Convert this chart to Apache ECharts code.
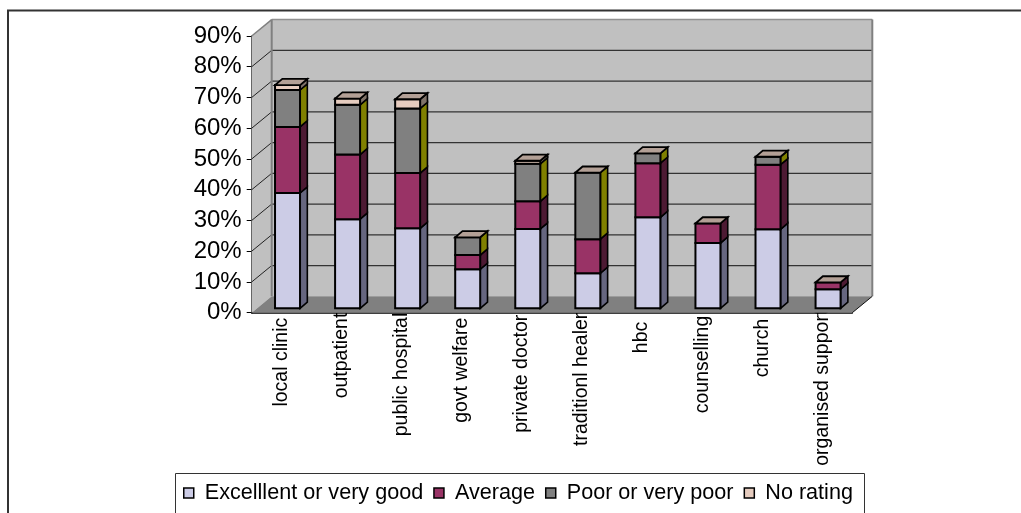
<!DOCTYPE html>
<html>
<head>
<meta charset="utf-8">
<style>html,body{margin:0;padding:0;background:#fff;overflow:hidden}#chart{width:1021px;height:513px}</style>
<script src="https://cdn.jsdelivr.net/npm/echarts@6/dist/echarts.min.js"></script>
</head>
<body>
<div id="chart"></div>
<script>
// Ratings of care providers, stacked percentages per provider
const categories = ['local clinic','outpatient','public hospital','govt welfare','private doctor','traditionl healer','hbc','counselling','church','organised support'];
const excellent = [37.5,29,26,12.7,25.8,11.4,29.6,21.2,25.7,6.2];
const average   = [21.5,21,18,4.6,9,11.1,17.6,6.4,21,2.2];
const poor      = [12,16.2,21,5.8,12.2,21.6,3.2,0,2.6,0];
const noRating  = [1.6,2,3,0,1,0,0,0,0,0];
const percentTicks = [0,10,20,30,40,50,60,70,80,90];

const seriesNames = ['Excelllent or very good','Average','Poor or very poor','No rating'];
const seriesValues = [excellent, average, poor, noRating];
const frontColors = ['#ccccE6','#993366','#808080','#E6CCBF'];
const sideColors  = ['#66667F','#4D1A33','#808000','#807369'];
const topColor = '#B3A096';

// Oblique projection: room depth, column offset inside the room, column depth
const room = {dx: 20, dy: -16.4};
const inset = {dx: 5.8, dy: -4.4};
const depth = {dx: 7.3, dy: -6.2};
const barRatio = 25 / 60.06;

// Extra distance of each category label from the axis
const labelDrop = [8,3,3,8,5,3,12,6,9,0];

function poly(points, fill, stroke, lineWidth) {
  return {type: 'polygon', shape: {points}, style: {fill, stroke: stroke || null, lineWidth: lineWidth || 0, lineJoin: 'miter'}};
}
function seg(x1, y1, x2, y2, stroke, lineWidth) {
  return {type: 'line', shape: {x1, y1, x2, y2}, style: {stroke, lineWidth}};
}

function renderRoom(params, api) {
  const c = params.coordSys;
  const l = c.x, r = c.x + c.width, t = c.y, b = c.y + c.height;
  const dx = room.dx, dy = room.dy;
  const parts = [
    poly([[l + dx, t + dy], [r + dx, t + dy], [r + dx, b + dy], [l + dx, b + dy]], '#C0C0C0'),
    poly([[l, t], [l + dx, t + dy], [l + dx, b + dy], [l, b]], '#C0C0C0'),
    poly([[l, b], [l + dx, b + dy], [r + dx, b + dy], [r, b]], '#808080')
  ];
  percentTicks.slice(1, -1).forEach(v => {
    const y = api.coord([0, v])[1];
    parts.push(seg(l, y, l + dx, y + dy, '#222', 1));
    parts.push(seg(l + dx, y + dy, r + dx, y + dy, '#333', 1.2));
  });
  parts.push(seg(l, t, l + dx, t + dy, '#808080', 1.5));
  parts.push(seg(l + dx, t + dy, r + dx, t + dy, '#909090', 1.5));
  parts.push(seg(l + dx, t + dy, l + dx, b + dy, '#808080', 2));
  parts.push(seg(r + dx, t + dy, r + dx, b + dy, '#808080', 2));
  parts.push(seg(r, b, r + dx, b + dy, '#111', 1));
  return {type: 'group', children: parts};
}

function renderSegment(s) {
  return function (params, api) {
    const i = api.value(0), lo = api.value(1), hi = api.value(2);
    const w = api.size([1, 0])[0] * barRatio;
    const cx = api.coord([i, 0])[0] + inset.dx;
    const x0 = cx - w / 2, x1 = cx + w / 2;
    const yLo = api.coord([i, lo])[1] + inset.dy;
    const yHi = api.coord([i, hi])[1] + inset.dy;
    const dx = depth.dx, dy = depth.dy;
    const parts = [];
    if (hi > lo) {
      parts.push(poly([[x1, yLo], [x1 + dx, yLo + dy], [x1 + dx, yHi + dy], [x1, yHi]], sideColors[s], '#000', 1.6));
      parts.push(poly([[x0, yLo], [x1, yLo], [x1, yHi], [x0, yHi]], frontColors[s], '#000', 2));
    }
    if (s === seriesValues.length - 1) {
      // The uppermost series caps the column even where its own value is zero
      parts.push(poly([[x0, yHi], [x1, yHi], [x1 + dx, yHi + dy], [x0 + dx, yHi + dy]], topColor, '#000', 1.8));
    }
    return {type: 'group', children: parts};
  };
}

const segmentSeries = seriesNames.map((name, s) => ({
  name,
  type: 'custom',
  z: 3 + s,
  clip: false,
  silent: true,
  itemStyle: {color: frontColors[s]},
  renderItem: renderSegment(s),
  encode: {x: 0, y: [1, 2]},
  data: categories.map((_, i) => {
    let base = 0;
    for (let k = 0; k < s; k++) base += seriesValues[k][i];
    return [i, base, base + seriesValues[s][i]];
  })
}));

const chart = echarts.init(document.getElementById('chart'), null, {renderer: 'canvas'});
chart.setOption({
  animation: false,
  backgroundColor: '#fff',
  textStyle: {fontFamily: '"Liberation Sans", Arial, sans-serif'},
  grid: {left: 251.7, right: 1021 - 852.3, top: 36, bottom: 513 - 312.7},
  xAxis: {
    type: 'category',
    data: categories.map((value, i) => ({value, textStyle: {padding: [0, labelDrop[i], 6, 0]}})),
    axisLine: {lineStyle: {color: '#000', width: 1.5}},
    axisTick: {length: 6, lineStyle: {color: '#000', width: 1}},
    axisLabel: {rotate: 90, interval: 0, margin: -3, color: '#000', fontSize: 19.5, fontFamily: '"Liberation Sans"', hideOverlap: false}
  },
  yAxis: {
    type: 'value',
    min: 0, max: 90, interval: 10,
    splitLine: {show: false},
    axisLine: {show: true, lineStyle: {color: '#000', width: 1.5}},
    axisTick: {show: true, length: 5, lineStyle: {color: '#000', width: 1}},
    axisLabel: {formatter: '{value}%', margin: 10, color: '#000', fontSize: 24, fontFamily: '"Liberation Sans"'}
  },
  legend: {
    left: 183, top: 482, padding: 0,
    data: seriesNames,
    icon: 'rect',
    itemWidth: 10, itemHeight: 10, itemGap: 10,
    itemStyle: {borderColor: '#000', borderWidth: 1.5},
    textStyle: {color: '#000', fontSize: 21.6, fontFamily: '"Liberation Sans"', padding: [0, 0, 0, 6]}
  },
  graphic: [
    {type: 'rect', z: -10, shape: {x: 8, y: 10.5, width: 1100, height: 600}, style: {fill: 'none', stroke: '#333', lineWidth: 2}},
    {type: 'rect', z: -10, shape: {x: 175.5, y: 473.5, width: 689, height: 60}, style: {fill: '#fff', stroke: '#333', lineWidth: 1}}
  ],
  series: [
    {type: 'custom', z: 1, clip: false, silent: true, renderItem: renderRoom, encode: {x: 0, y: 1}, data: [[0, 0]]}
  ].concat(segmentSeries)
});
</script>
</body>
</html>
